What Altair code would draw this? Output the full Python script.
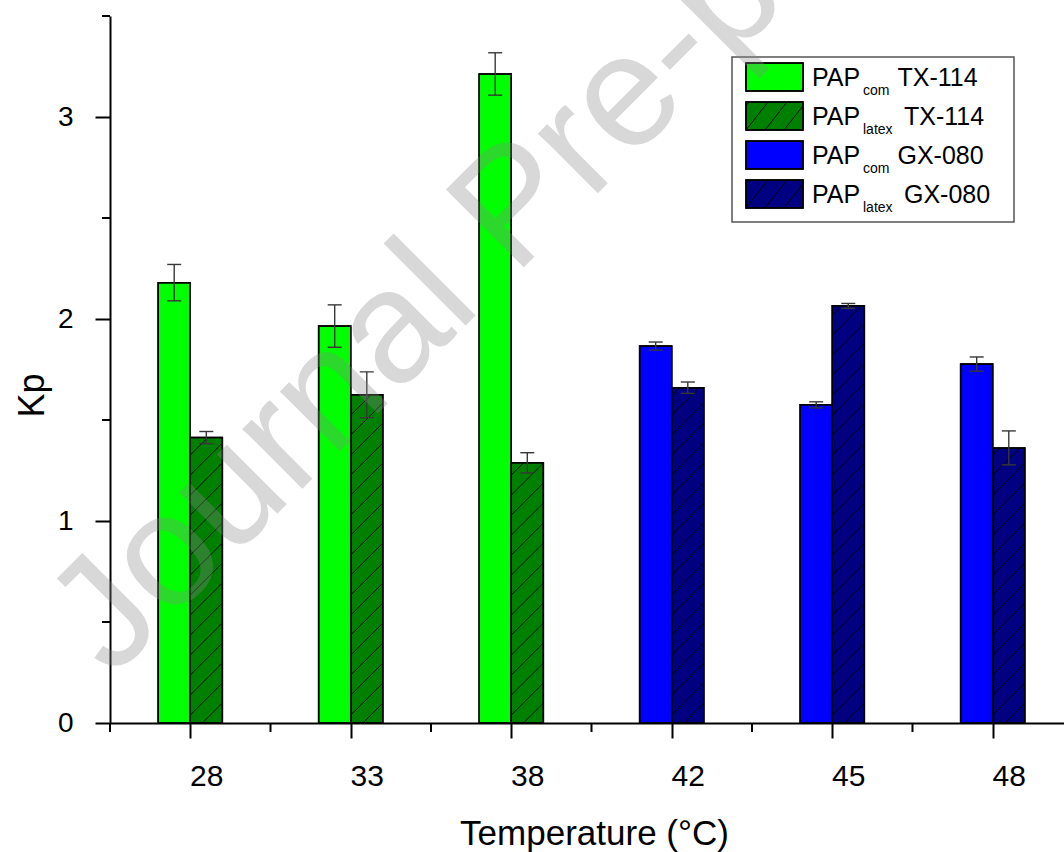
import json
import altair as alt
import numpy as np
import pandas as pd

# ---------------- data ----------------
temps = ["28", "33", "38", "42", "45", "48"]
surfactants = ["TX-114", "TX-114", "TX-114", "GX-080", "GX-080", "GX-080"]
kp_com = [2.18, 1.965, 3.213, 1.866, 1.575, 1.777]
kp_com_err = [0.09, 0.105, 0.105, 0.02, 0.015, 0.035]
kp_latex = [1.413, 1.625, 1.288, 1.66, 2.065, 1.362]
kp_latex_err = [0.03, 0.113, 0.05, 0.028, 0.012, 0.084]

series_main = ["PAP", "PAP", "PAP", "PAP"]
series_sub = ["com", "latex", "com", "latex"]
series_suffix = ["TX-114", "TX-114", "GX-080", "GX-080"]

x_major = [0, 1, 2, 3, 4, 5]
x_minor = [-0.5, 0.5, 1.5, 2.5, 3.5, 4.5]
y_major = [0, 1, 2, 3]
y_minor = [0.5, 1.5, 2.5, 3.5]

watermark = "Journal Pre-proof"

# ---------------- styling ----------------
FONT = "Liberation Sans"
W, H = 954, 707
XDOM = [-0.5, 5.444]
YDOM = [0, 3.5]
PXX = W / (XDOM[1] - XDOM[0])
PXY = H / (YDOM[1] - YDOM[0])
BW = 0.2
fill_com = {"TX-114": "#00ff00", "GX-080": "#0000ff"}
fill_latex = {"TX-114": "#008000", "GX-080": "#000080"}

rows = []
for i, t in enumerate(temps):
    s = surfactants[i]
    rows.append(dict(idx=i, temp=t, kind="com", kp=kp_com[i], err=kp_com_err[i], fill=fill_com[s]))
    rows.append(dict(idx=i, temp=t, kind="latex", kp=kp_latex[i], err=kp_latex_err[i], fill=fill_latex[s]))
bars = pd.DataFrame(rows)
bars["x0"] = bars["idx"] + np.where(bars["kind"] == "com", -BW, 0.0)
bars["x1"] = bars["x0"] + BW
bars["xc"] = (bars["x0"] + bars["x1"]) / 2
bars["lo"] = bars["kp"] - bars["err"]
bars["hi"] = bars["kp"] + bars["err"]
bars["zero"] = 0.0

# hatch segments for latex bars (45 deg in pixel space)
rise = BW * PXX / PXY
step = 20.0 / PXY
hseg = []
for _, r in bars[bars["kind"] == "latex"].iterrows():
    v = r["kp"]
    k = 0
    while True:
        b = -rise + k * step
        if b >= v:
            break
        t0 = max(0.0, -b / rise)
        t1 = min(1.0, (v - b) / rise)
        if t1 > t0:
            hseg.append(dict(hx0=r["x0"] + BW * t0, hy0=b + rise * t0,
                             hx1=r["x0"] + BW * t1, hy1=b + rise * t1))
        k += 1
hatch = pd.DataFrame(hseg)

xs = alt.Scale(domain=XDOM, nice=False, zero=False)
ys = alt.Scale(domain=YDOM, nice=False, zero=False)

x_axis = alt.Axis(
    values=x_major, labelExpr=json.dumps(temps) + "[datum.value]",
    tickSize=15, tickWidth=2, domainWidth=2, domainColor="black", tickColor="black",
    labelFontSize=30, labelFont=FONT, labelColor="black", labelPadding=23, labelOffset=16,
    labelFlush=False, labelOverlap=False, grid=False,
    title="Temperature (°C)", titleFont=FONT, titleFontSize=35, titleFontWeight="normal",
    titleColor="black", titleX=484, titleY=121, titleBaseline="alphabetic", titleAlign="center",
)
y_axis = alt.Axis(
    values=y_major, tickSize=15, tickWidth=2, domainWidth=2, domainColor="black", tickColor="black",
    labelFontSize=28, labelFont=FONT, labelColor="black", labelPadding=22, grid=False,
    title="Kp", titleFont=FONT, titleFontSize=36, titleFontWeight="normal", titleColor="black",
    titleAngle=270, titleX=-67, titleY=379, titleBaseline="alphabetic", titleAlign="center",
)


def X(field):
    return alt.X(field, scale=xs, axis=x_axis)


def Y(field):
    return alt.Y(field, scale=ys, axis=y_axis)


base = alt.Chart(bars)
bar_layer = base.mark_rect(stroke="black", strokeWidth=1.5).encode(
    x=X("x0:Q"), x2="x1:Q", y=Y("kp:Q"), y2="zero:Q",
    color=alt.Color("fill:N", scale=None),
)
hatch_layer = alt.Chart(hatch).mark_rule(color="black", strokeWidth=0.9).encode(
    x=X("hx0:Q"), x2="hx1:Q", y=Y("hy0:Q"), y2="hy1:Q",
)
outline_layer = base.mark_rect(stroke="black", strokeWidth=1.5, fillOpacity=0).encode(
    x=X("x0:Q"), x2="x1:Q", y=Y("kp:Q"), y2="zero:Q",
)
err_layer = base.mark_rule(color="#383838", strokeWidth=1.4).encode(
    x=X("xc:Q"), y=Y("lo:Q"), y2="hi:Q",
)
cap_lo = base.mark_tick(orient="horizontal", size=14, thickness=1.4, color="#383838", opacity=1).encode(
    x=X("xc:Q"), y=Y("lo:Q"),
)
cap_hi = base.mark_tick(orient="horizontal", size=14, thickness=1.4, color="#383838", opacity=1).encode(
    x=X("xc:Q"), y=Y("hi:Q"),
)
minor_x = alt.Chart(pd.DataFrame({"m": x_minor})).mark_rule(color="black", strokeWidth=2).encode(
    x=X("m:Q"), y=alt.value(H), y2=alt.value(H + 9),
)
minor_y = alt.Chart(pd.DataFrame({"m": y_minor})).mark_rule(color="black", strokeWidth=2).encode(
    y=Y("m:Q"), x=alt.value(-8), x2=alt.value(0),
)

# ---------------- custom legend (pixel space) ----------------
leg = pd.DataFrame({"main": series_main, "sub": series_sub, "suffix": series_suffix})
leg["row"] = range(len(leg))
leg["fill"] = [fill_com[s] if k == "com" else fill_latex[s] for k, s in zip(series_sub, series_suffix)]
leg["sy0"] = 47 + 39 * leg["row"]
leg["sy1"] = leg["sy0"] + 28
leg["ty"] = 70 + 39 * leg["row"]
leg["suby"] = leg["ty"] + 9
leg["sx"] = np.where(leg["sub"] == "com", 787.5, 794.0)

SX0, SX1 = 636, 693
lseg = []
for _, r in leg[leg["sub"] == "latex"].iterrows():
    ybot, run, hgt = r["sy1"], 22.0, 28.0
    for k in range(6):
        xb = SX0 - run + k * 19 + 3
        t0 = max(0.0, (SX0 - xb) / run)
        t1 = min(1.0, (SX1 - xb) / run)
        if t1 > t0:
            lseg.append(dict(lx0=xb + run * t0, ly0=ybot - hgt * t0, lx1=xb + run * t1, ly1=ybot - hgt * t1))
lhatch = pd.DataFrame(lseg)

box = alt.Chart(pd.DataFrame({"b": [0]})).mark_rect(fill="white", stroke="#555555", strokeWidth=1.5).encode(
    x=alt.value(622), x2=alt.value(904), y=alt.value(41), y2=alt.value(206),
)
lb = alt.Chart(leg)
swatch = lb.mark_rect(stroke="black", strokeWidth=1.5).encode(
    x=alt.value(SX0), x2=alt.value(SX1),
    y=alt.Y("sy0:Q", scale=None), y2="sy1:Q",
    color=alt.Color("fill:N", scale=None),
)
swatch_hatch = alt.Chart(lhatch).mark_rule(color="black", strokeWidth=0.9).encode(
    x=alt.X("lx0:Q", scale=None), x2="lx1:Q",
    y=alt.Y("ly0:Q", scale=None), y2="ly1:Q",
)
swatch_outline = lb.mark_rect(stroke="black", strokeWidth=1.5, fillOpacity=0).encode(
    x=alt.value(SX0), x2=alt.value(SX1),
    y=alt.Y("sy0:Q", scale=None), y2="sy1:Q",
)
t_main = lb.mark_text(align="left", baseline="alphabetic", font=FONT, fontSize=25, color="black").encode(
    x=alt.value(702), y=alt.Y("ty:Q", scale=None), text="main:N",
)
t_sub = lb.mark_text(align="left", baseline="alphabetic", font=FONT, fontSize=14, color="black").encode(
    x=alt.value(753), y=alt.Y("suby:Q", scale=None), text="sub:N",
)
t_suf = lb.mark_text(align="left", baseline="alphabetic", font=FONT, fontSize=25, color="black").encode(
    x=alt.X("sx:Q", scale=None), y=alt.Y("ty:Q", scale=None), text="suffix:N",
)

wm = alt.Chart(pd.DataFrame({"t": [watermark]})).mark_text(
    angle=315, align="left", baseline="alphabetic", font=FONT, fontSize=160,
    color="#8a8a8a", opacity=0.33,
).encode(x=alt.value(2), y=alt.value(663), text="t:N")

chart = alt.layer(
    bar_layer, hatch_layer, outline_layer, err_layer, cap_lo, cap_hi, minor_x, minor_y,
    box, swatch, swatch_hatch, swatch_outline, t_main, t_sub, t_suf, wm,
).properties(
    width=W, height=H,
    autosize=alt.AutoSizeParams(type="none"),
    padding={"left": 110, "top": 16, "right": 0, "bottom": 129},
    background="white",
).configure_view(stroke=None)

chart.save("out.html", embed_options={"renderer": "svg", "actions": False})
